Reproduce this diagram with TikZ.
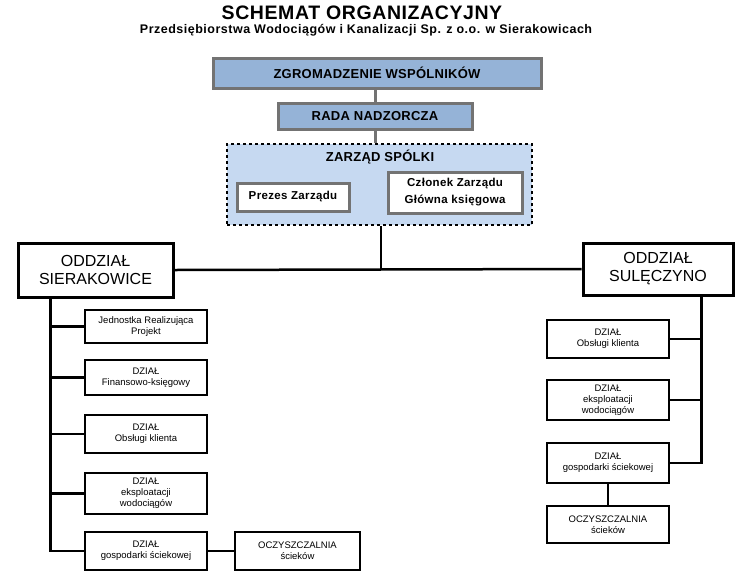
\documentclass[tikz,border=0pt]{standalone}
\usepackage{fontspec}
\setmainfont{Liberation Sans}
\definecolor{blueA}{HTML}{95B3D7}
\definecolor{blueB}{HTML}{C6D9F1}
\definecolor{grayB}{HTML}{737373}
\tikzset{
  bluebox/.style={draw=grayB, fill=blueA, line width=3pt, inner sep=0pt, font=\bfseries\fontsize{13}{15}\selectfont\addfontfeature{LetterSpace=2}},
  whitebox/.style={draw=grayB, fill=white, line width=3pt, inner sep=0pt, align=center, font=\bfseries\fontsize{11.5}{17}\selectfont\addfontfeature{LetterSpace=3}},
  oddzial/.style={draw=black, fill=white, line width=3pt, inner sep=0pt, align=center, font=\fontsize{16}{18}\selectfont},
  dzial/.style={draw=black, fill=white, line width=2pt, inner sep=0pt, align=center, minimum width=122pt, font=\fontsize{9.5}{11}\selectfont},
  conn/.style={draw=black, line width=2.5pt},
  gconn/.style={draw=grayB, line width=3pt},
}
\begin{document}
\begin{tikzpicture}[x=1pt,y=-1pt]
\useasboundingbox (0,0) rectangle (755,574);
\node (title) at (362,13) {\bfseries\fontsize{19.5}{21}\selectfont\addfontfeature{LetterSpace=3}SCHEMAT ORGANIZACYJNY};
\node (sub) at (366,30) {\bfseries\fontsize{12.5}{14}\selectfont\addfontfeature{LetterSpace=4}Przedsiębiorstwa Wodociągów i Kanalizacji Sp. z o.o. w Sierakowicach};

\node[bluebox, minimum width=328pt, minimum height=30pt] (zgrom) at (377,73) {ZGROMADZENIE WSPÓLNIKÓW};
\node[bluebox, minimum width=194pt, minimum height=26pt] (rada) at (375,116) {RADA NADZORCZA};
\node[draw=black, fill=blueB, dashed, line width=2pt, minimum width=305pt, minimum height=81pt, inner sep=0pt] (zarzad) at (379.5,184.5) {};
\node[font=\bfseries\fontsize{13}{15}\selectfont\addfontfeature{LetterSpace=2}] (ztitle) at (380,157) {ZARZĄD SPÓLKI};
\node[whitebox, minimum width=112pt, minimum height=28pt] (prezes) at (293,197) {Prezes Zarządu};
\node[whitebox, minimum width=134pt, minimum height=41pt] (czlonek) at (455,192.5) {Członek Zarządu\\Główna księgowa};

\draw[gconn] (rada.north) -- (rada.north |- zgrom.south);
\draw[gconn] (rada.south) -- (rada.south |- zarzad.north);

\node[oddzial, minimum width=155pt, minimum height=54pt] (sier) at (95.5,270) {ODDZIAŁ\\SIERAKOWICE};
\node[oddzial, minimum width=150pt, minimum height=52pt] (sul) at (658,269) {ODDZIAŁ\\SULĘCZYNO};

\draw[conn] (sier.east) -- (sul.west);
\draw[conn] (zarzad.south) ++(1.5,0) coordinate (zs) -- (zs |- sier.east);

% left branch
\node[dzial, minimum height=33pt] (jrp) at (146,326.5) {Jednostka Realizująca\\Projekt};
\node[dzial, minimum height=35pt] (fin) at (146,377.5) {DZIAŁ\\Finansowo-księgowy};
\node[dzial, minimum height=38pt] (obs) at (146,434) {DZIAŁ\\Obsługi klienta};
\node[dzial, minimum height=41pt] (eks) at (146,493.5) {DZIAŁ\\eksploatacji\\wodociągów};
\node[dzial, minimum height=38pt] (gos) at (146,551) {DZIAŁ\\gospodarki ściekowej};
\node[dzial, minimum width=125pt, minimum height=38pt] (ocz) at (297.5,551) {OCZYSZCZALNIA\\ścieków};

\path (sier.south west) ++(34,0) coordinate (lt);
\draw[conn] (lt) |- (gos.west);
\draw[conn] (lt |- jrp.west) -- (jrp.west);
\draw[conn] (lt |- fin.west) -- (fin.west);
\draw[conn] (lt |- obs.west) -- (obs.west);
\draw[conn] (lt |- eks.west) -- (eks.west);
\draw[conn] (gos.east) -- (ocz.west);

% right branch
\node[dzial, minimum height=38pt] (robs) at (608,339) {DZIAŁ\\Obsługi klienta};
\node[dzial, minimum height=40pt] (reks) at (608,400) {DZIAŁ\\eksploatacji\\wodociągów};
\node[dzial, minimum height=40pt] (rgos) at (608,463) {DZIAŁ\\gospodarki ściekowej};
\node[dzial, minimum height=37pt] (rocz) at (608,524.5) {OCZYSZCZALNIA\\ścieków};

\path (sul.south east) ++(-33,0) coordinate (rt);
\draw[conn] (rt) |- (rgos.east);
\draw[conn] (rt |- robs.east) -- (robs.east);
\draw[conn] (rt |- reks.east) -- (reks.east);
\draw[conn] (rgos.south) -- (rocz.north);
\end{tikzpicture}
\end{document}
